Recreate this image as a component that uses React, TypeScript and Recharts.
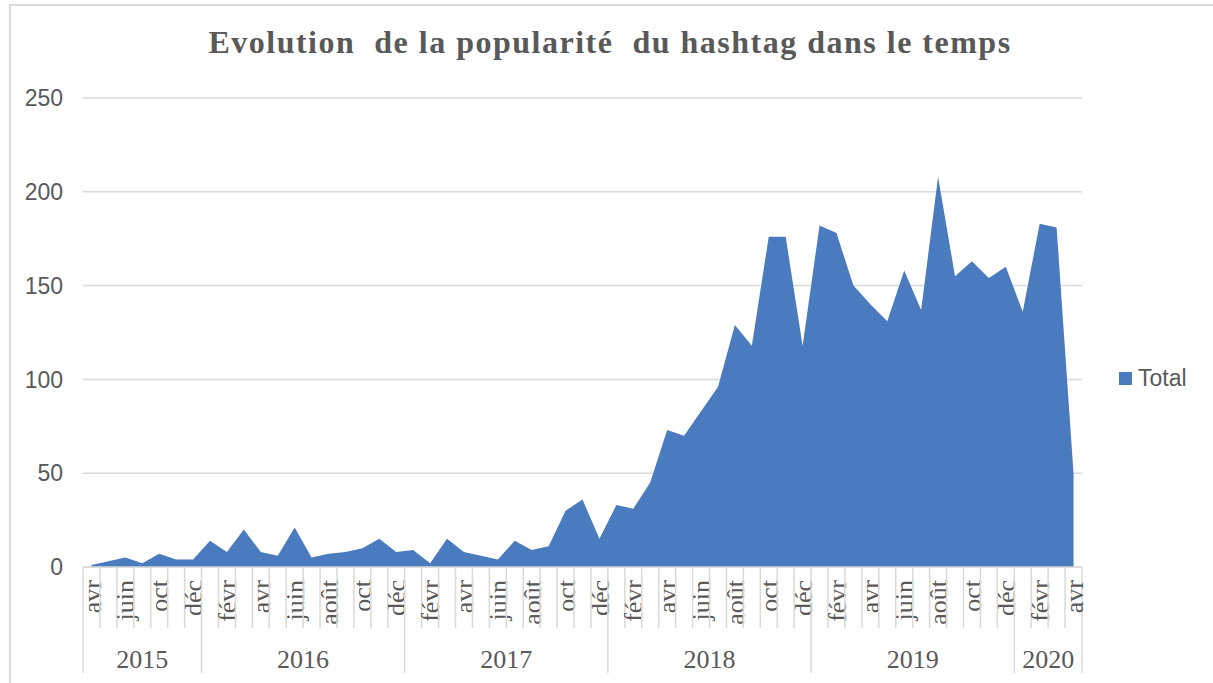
import { Area, AreaChart, CartesianGrid, Legend, XAxis, YAxis } from "recharts"

const years = ["2015", "2016", "2017", "2018", "2019", "2020"]

const fullYear = ["janv", "févr", "mars", "avr", "mai", "juin", "juil", "août", "sept", "oct", "nov", "déc"]
const months2015 = ["avr", "mai", "juin", "juil", "oct", "nov", "déc"]
const months2020 = ["janv", "févr", "mars", "avr"]
const monthsByYear = [months2015, fullYear, fullYear, fullYear, fullYear, months2020]

const totals = [
    1, 3, 5, 2, 7, 4, 4,
    14, 8, 20, 8, 6, 21, 5, 7, 8, 10, 15, 8,
    9, 2, 15, 8, 6, 4, 14, 9, 11, 30, 36, 15,
    33, 31, 45, 73, 70, 83, 96, 129, 118, 176, 176, 118,
    182, 178, 150, 140, 131, 158, 137, 208, 155, 163, 154, 160,
    136, 183, 181, 50,
]

const yTicks = [0, 50, 100, 150, 200, 250]

type Row = { idx: number; month: string; year: string; first: boolean; count: number; total: number }

const data: Row[] = []
years.forEach((year, yi) => {
    const months = monthsByYear[yi]
    months.forEach((month, mi) => {
        const idx = data.length
        data.push({ idx, month, year, first: mi === 0, count: months.length, total: totals[idx] })
    })
})

const GRID = "#d9d9d9"
const TEXT = "#595959"
const BLUE = "#4a7bbf"

const W = 1213
const H = 683
const MARGIN = { top: 98, right: 131, bottom: 0, left: 0 }
const Y_WIDTH = 83

function MonthTick(props: any) {
    const { x, y, payload } = props
    const plotW = typeof props.width === "number" ? props.width : W - MARGIN.left - MARGIN.right - Y_WIDTH
    const step = plotW / data.length
    const d = data[payload.value]
    if (!d) return null
    const left = x - step / 2
    const ty = y + 13
    return (
        <g>
            <line x1={left} x2={left} y1={y} y2={y + (d.first ? 106 : 61)} stroke={GRID} strokeWidth={1.5} />
            {d.idx === data.length - 1 && (
                <line x1={x + step / 2} x2={x + step / 2} y1={y} y2={y + 106} stroke={GRID} strokeWidth={1.5} />
            )}
            {d.idx % 2 === 0 && (
                <text
                    x={x}
                    y={ty}
                    dy="0.35em"
                    transform={`rotate(-90 ${x} ${ty})`}
                    textAnchor="end"
                    fill={TEXT}
                    fontSize={26}
                    fontFamily="Liberation Serif"
                >
                    {d.month}
                </text>
            )}
            {d.first && (
                <text
                    x={left + (d.count * step) / 2}
                    y={y + 101}
                    textAnchor="middle"
                    fill={TEXT}
                    fontSize={26}
                    fontFamily="Liberation Serif"
                >
                    {d.year}
                </text>
            )}
        </g>
    )
}

function LegendBox() {
    return (
        <div style={{ display: "flex", alignItems: "center", fontFamily: "Liberation Sans", fontSize: 23, color: TEXT }}>
            <span style={{ width: 13, height: 13, background: BLUE, display: "inline-block", marginRight: 6 }} />
            <span>Total</span>
        </div>
    )
}

export default function App() {
    return (
        <div style={{ position: "absolute", left: 0, top: 0, width: W, height: H, overflow: "hidden", background: "#fff" }}>
            <div
                style={{
                    position: "absolute",
                    left: 9,
                    top: 4,
                    width: W + 20,
                    height: H + 20,
                    border: `2px solid ${GRID}`,
                }}
            />
            <div
                style={{
                    position: "absolute",
                    left: 0,
                    width: 1220,
                    top: 24,
                    textAlign: "center",
                    fontFamily: "Liberation Serif",
                    fontWeight: "bold",
                    fontSize: 32,
                    letterSpacing: 1.5,
                    color: TEXT,
                    whiteSpace: "pre",
                }}
            >
                {"Evolution  de la popularité  du hashtag dans le temps"}
            </div>
            <div style={{ position: "absolute", left: 0, top: 0 }}>
                <AreaChart width={W} height={H} data={data} margin={MARGIN}>
                    <CartesianGrid xAxisId="m" vertical={false} stroke={GRID} strokeWidth={1.5} />
                    <XAxis
                        xAxisId="m"
                        dataKey="idx"
                        type="number"
                        domain={[-0.5, data.length - 0.5]}
                        ticks={data.map((d) => d.idx)}
                        interval={0}
                        height={116}
                        tickSize={0}
                        tickMargin={0}
                        tickLine={false}
                        axisLine={{ stroke: GRID, strokeWidth: 1.5 }}
                        tick={<MonthTick />}
                    />
                    <YAxis
                        domain={[0, 250]}
                        ticks={yTicks}
                        width={Y_WIDTH}
                        axisLine={false}
                        tickLine={false}
                        tickSize={0}
                        tickMargin={20}
                        tick={{ fill: TEXT, fontSize: 23, fontFamily: "Liberation Sans" }}
                    />
                    <Area
                        xAxisId="m"
                        type="linear"
                        dataKey="total"
                        name="Total"
                        fill={BLUE}
                        fillOpacity={1}
                        stroke="none"
                        isAnimationActive={false}
                    />
                    <Legend
                        layout="vertical"
                        align="center"
                        verticalAlign="middle"
                        content={<LegendBox />}
                        wrapperStyle={{ left: 1119, top: 365, width: "auto" }}
                    />
                </AreaChart>
            </div>
        </div>
    )
}
